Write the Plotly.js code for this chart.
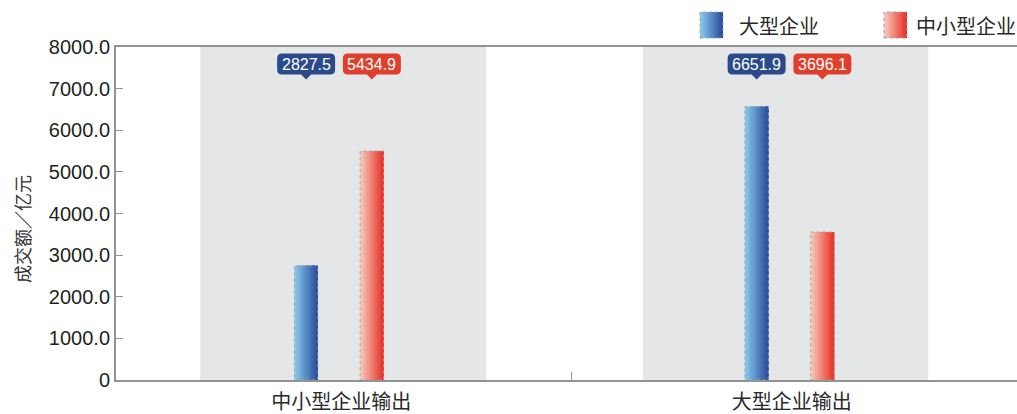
<!DOCTYPE html>
<html>
<head>
<meta charset="utf-8">
<script src="https://cdn.plot.ly/plotly-3.0.1.min.js"></script>
<style>
  html, body { margin: 0; padding: 0; background: #ffffff; }
  #chart { width: 1017px; height: 414px; }
</style>
</head>
<body>
<div id="chart"></div>
<script>
// ---- data ----
const categories = ['中小型企业输出', '大型企业输出'];
const seriesNames = ['大型企业', '中小型企业'];
const largeValues = [2746, 6566];      // bar heights as drawn
const smeValues = [5501, 3555];        // bar heights as drawn
const largeLabels = ['2827.5', '6651.9'];
const smeLabels = ['5434.9', '3696.1'];
const yTickVals = [0, 1000, 2000, 3000, 4000, 5000, 6000, 7000, 8000];
const yTickText = ['0', '1000.0', '2000.0', '3000.0', '4000.0', '5000.0', '6000.0', '7000.0', '8000.0'];
const yTitle = '成交额／亿元';

// ---- style ----
const W = 1017, H = 414;
const M = { l: 116, r: 0, t: 47, b: 34 };
const plotW = W - M.l - M.r, plotH = H - M.t - M.b;
const barW = 0.052;
const bandLeft = [-0.313, -0.330];   // band extents relative to category centre
const bandRight = [0.322, 0.303];
const labelY = 7591;
const series = [
  { name: seriesNames[0], values: largeValues, labels: largeLabels, offset: -0.104,
    c0: [134, 199, 236], c1: [42, 78, 156], label: '#2b4a8b' },
  { name: seriesNames[1], values: smeValues, labels: smeLabels, offset: 0.042,
    c0: [245, 200, 186], c1: [232, 52, 40], label: '#e0402b' }
];
const N = 14;
function mix(a, b, t) {
  return 'rgb(' + a.map((v, i) => Math.round(v + (b[i] - v) * t)).join(',') + ')';
}

const traces = [];
const shapes = [];
const annotations = [];
const xIdx = categories.map((c, i) => i);

// background bands
xIdx.forEach(i => {
  shapes.push({ type: 'rect', xref: 'x', yref: 'paper', x0: i + bandLeft[i], x1: i + bandRight[i], y0: 0, y1: 1,
    fillcolor: '#e5e6e8', line: { width: 0 }, layer: 'below' });
});

series.forEach(s => {
  // gradient: each slice starts further right and runs to the bar's right edge
  for (let k = 0; k < N; k++) {
    traces.push({
      type: 'bar', x: xIdx, y: s.values, width: barW * (N - k) / N, offset: s.offset + k * barW / N,
      marker: { color: mix(s.c0, s.c1, k / (N - 1)), line: { width: 0 } },
      showlegend: false, hoverinfo: 'skip'
    });
  }
  xIdx.forEach(i => {
    // dotted outline
    shapes.push({ type: 'rect', xref: 'x', yref: 'y', x0: i + s.offset, x1: i + s.offset + barW,
      y0: 0, y1: s.values[i], line: { color: '#a3a3a3', width: 1, dash: 'dot' }, layer: 'above' });
    // callout label
    const cx = i + s.offset + barW / 2;
    const r = 5, hw = 29, hh = 10.5;
    const path = `M ${-hw + r} ${hh} L ${hw - r} ${hh} Q ${hw} ${hh} ${hw} ${hh - r} L ${hw} ${-hh + r} ` +
      `Q ${hw} ${-hh} ${hw - r} ${-hh} L 5 ${-hh} L 0 ${-hh - 5} L -5 ${-hh} L ${-hw + r} ${-hh} ` +
      `Q ${-hw} ${-hh} ${-hw} ${-hh + r} L ${-hw} ${hh - r} Q ${-hw} ${hh} ${-hw + r} ${hh} Z`;
    shapes.push({ type: 'path', xref: 'x', yref: 'y', xsizemode: 'pixel', ysizemode: 'pixel',
      xanchor: cx, yanchor: labelY, path: path, fillcolor: s.label, line: { width: 0 }, layer: 'above' });
    annotations.push({ x: cx, y: labelY, xref: 'x', yref: 'y', text: s.labels[i], showarrow: false,
      font: { family: 'Liberation Sans, Arial, sans-serif', size: 16, color: '#ffffff' } });
  });
});

// legend (custom, at top right)
const px2x = px => (px - M.l) / plotW;
const py2y = py => (H - M.b - py) / plotH;
const legendItems = [
  { s: series[0], sx: 700, tx: 737 },
  { s: series[1], sx: 884, tx: 914 }
];
legendItems.forEach(it => {
  const sw = 23, y0 = 12, y1 = 38, n = 12;
  for (let k = 0; k < n; k++) {
    shapes.push({ type: 'rect', xref: 'paper', yref: 'paper',
      x0: px2x(it.sx + k * sw / n), x1: px2x(it.sx + sw),
      y0: py2y(y1), y1: py2y(y0), fillcolor: mix(it.s.c0, it.s.c1, k / (n - 1)), line: { width: 0 } });
  }
  shapes.push({ type: 'rect', xref: 'paper', yref: 'paper', x0: px2x(it.sx), x1: px2x(it.sx + sw),
    y0: py2y(y1), y1: py2y(y0), line: { color: '#a3a3a3', width: 1, dash: 'dot' } });
  annotations.push({ xref: 'paper', yref: 'paper', x: px2x(it.tx), y: py2y(26), xanchor: 'left', yanchor: 'middle',
    text: it.s.name, showarrow: false,
    font: { family: 'Noto Sans CJK SC, sans-serif', size: 20, color: '#2a2a2a' } });
});

// y axis title
annotations.push({ xref: 'paper', yref: 'paper', x: px2x(22), y: py2y(229), xanchor: 'center', yanchor: 'middle',
  text: yTitle, textangle: -90, showarrow: false,
  font: { family: 'Noto Sans CJK SC, sans-serif', size: 18, color: '#333333' } });

const layout = {
  width: W, height: H,
  margin: M,
  paper_bgcolor: '#ffffff', plot_bgcolor: '#ffffff',
  barmode: 'overlay',
  showlegend: false,
  xaxis: {
    type: 'linear', range: [-0.5, 1.5], tickvals: xIdx, ticktext: categories,
    ticks: '', showgrid: false, zeroline: false, ticklabelstandoff: 3,
    showline: true, linecolor: '#939393', linewidth: 2, mirror: true,
    tickfont: { family: 'Noto Sans CJK SC, sans-serif', size: 20, color: '#2a2a2a' },
    minor: { tickvals: [0.51], ticks: 'inside', ticklen: 8, tickcolor: '#939393', tickwidth: 1, showgrid: false },
    fixedrange: true
  },
  yaxis: {
    range: [0, 8000], tickvals: yTickVals, ticktext: yTickText,
    ticks: 'inside', ticklen: 7, tickcolor: '#939393', tickwidth: 1,
    showgrid: false, zeroline: false, showline: true, linecolor: '#939393', linewidth: 2,
    tickfont: { family: 'Liberation Sans, Arial, sans-serif', size: 20, color: '#231f20' },
    fixedrange: true
  },
  shapes: shapes,
  annotations: annotations
};

Plotly.newPlot('chart', traces, layout, { displayModeBar: false, staticPlot: true });
</script>
</body>
</html>
